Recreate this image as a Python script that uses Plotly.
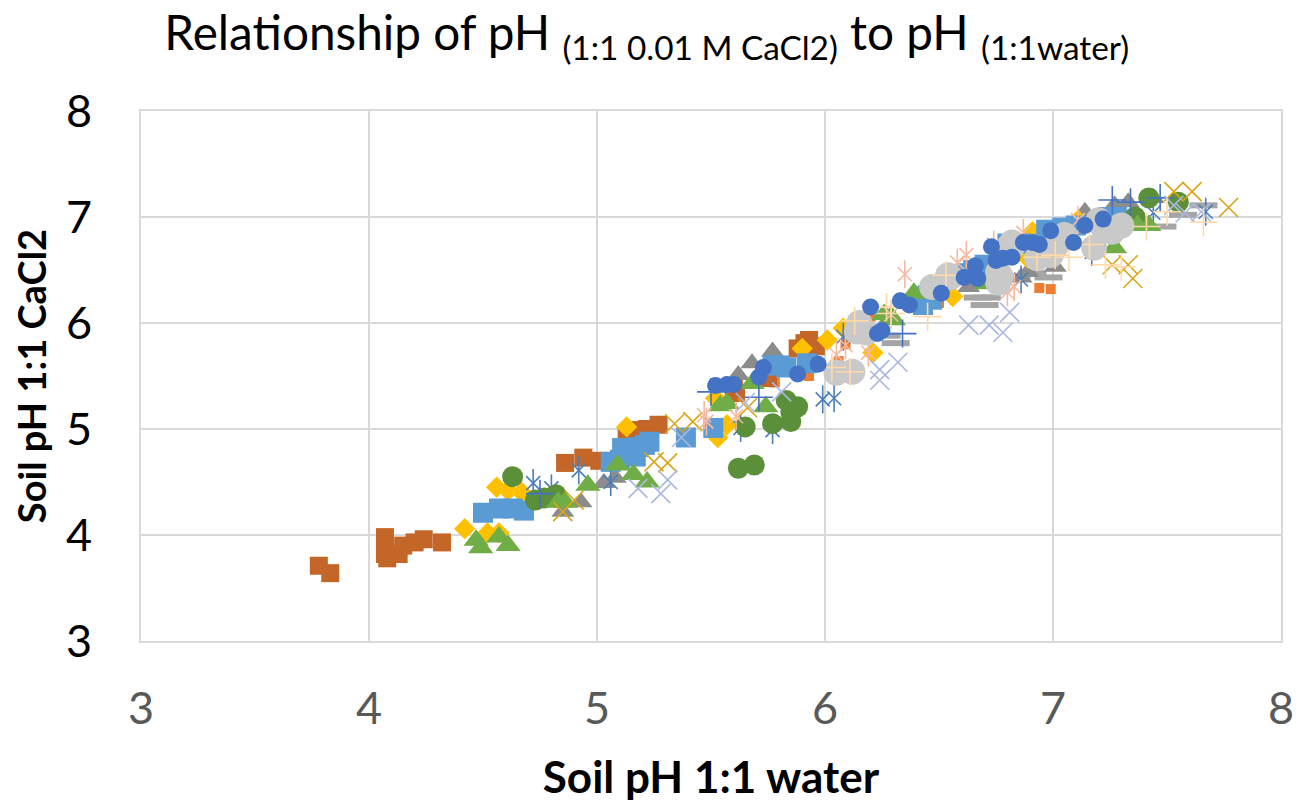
"""Soil pH in CaCl2 against soil pH in water, one trace per marker group."""
import plotly.graph_objects as go

TICKS = [3, 4, 5, 6, 7, 8]

ORANGE_DASH_X = [5.78, 5.93, 6.06, 6.09, 6.20, 6.50, 6.94, 6.99]
ORANGE_DASH_Y = [5.44, 5.50, 5.64, 5.80, 6.06, 6.19, 6.33, 6.32]
GRAY_DASH_X = [6.31, 6.27, 6.67, 6.71, 6.70, 6.84, 6.91, 6.98, 7.48, 7.57, 7.66]
GRAY_DASH_Y = [5.81, 5.88, 6.24, 6.24, 6.17, 6.44, 6.47, 6.43, 6.91, 7.02, 7.11]
GRAY_TRI_X = [4.85, 4.93, 5.03, 5.08, 5.62, 5.68, 5.77, 6.63, 6.86, 6.89, 7.01, 7.14, 7.27, 7.33, 7.44]
GRAY_TRI_Y = [4.22, 4.31, 4.49, 4.54, 5.51, 5.62, 5.73, 6.34, 6.43, 6.48, 6.53, 7.05, 7.11, 7.14, 7.18]
BROWN_X = [3.78, 3.83, 4.07, 4.07, 4.07, 4.08, 4.13, 4.15, 4.20, 4.24, 4.32, 4.86, 4.94, 5.01,
           5.13, 5.18, 5.22, 5.27, 5.60, 5.61, 5.75, 5.88, 5.91, 5.93, 5.93, 5.96]
BROWN_Y = [3.71, 3.64, 3.98, 3.88, 3.82, 3.78, 3.82, 3.90, 3.93, 3.96, 3.93, 4.68, 4.73, 4.70,
           4.93, 4.99, 5.00, 5.04, 5.38, 5.34, 5.48, 5.76, 5.81, 5.75, 5.84, 5.78]
GOLD_X = [4.42, 4.52, 4.57, 4.56, 4.61, 4.67, 5.13, 5.52, 5.53, 5.57, 5.90, 6.01, 6.08, 6.21,
          6.50, 6.56, 6.89, 6.91, 7.11]
GOLD_Y = [4.06, 4.02, 4.02, 4.45, 4.42, 4.40, 5.02, 5.29, 4.92, 5.04, 5.76, 5.84, 5.95, 5.72,
          6.35, 6.25, 6.61, 6.86, 6.97]
BLUE_SQ_X = [4.50, 4.57, 4.63, 4.68, 5.06, 5.10, 5.11, 5.13, 5.17, 5.18, 5.21, 5.23, 5.39, 5.51, 5.77,
             5.80, 5.83, 5.92, 6.43, 6.45, 6.47, 6.62, 6.65, 6.70, 6.80, 6.86, 6.97, 7.04, 7.10, 7.24, 7.28]
BLUE_SQ_Y = [4.21, 4.25, 4.25, 4.23, 4.69, 4.71, 4.82, 4.76, 4.74, 4.83, 4.85, 4.88, 4.92, 5.01, 5.60,
             5.60, 5.58, 5.62, 6.17, 6.26, 6.22, 6.47, 6.50, 6.55, 6.75, 6.75, 6.88, 6.90, 6.92, 7.00, 7.00]
STEEL_STAR_X = [4.72, 4.80, 4.92, 5.06, 5.63, 5.77, 5.99, 6.04, 6.08, 6.86, 7.17, 7.44, 7.67]
STEEL_STAR_Y = [4.49, 4.44, 4.61, 4.50, 5.01, 4.99, 5.28, 5.29, 5.87, 6.41, 6.67, 7.04, 7.05]
DARK_GREEN_X = [4.63, 4.73, 4.77, 4.82, 5.62, 5.69, 5.65, 5.77, 5.85, 5.88, 5.83, 5.85, 7.36, 7.42, 7.55]
DARK_GREEN_Y = [4.55, 4.33, 4.35, 4.38, 4.63, 4.66, 5.02, 5.05, 5.07, 5.21, 5.27, 5.16, 7.00, 7.18, 7.14]
GREEN_TRI_X = [4.47, 4.49, 4.57, 4.61, 4.83, 4.86, 4.96, 5.09, 5.16, 5.22, 5.54, 5.57, 5.68, 5.74,
               6.26, 6.29, 6.30, 6.39, 6.45, 6.71, 7.27, 7.32, 7.37, 7.42]
GREEN_TRI_Y = [3.95, 3.88, 3.98, 3.90, 4.31, 4.31, 4.47, 4.66, 4.57, 4.50, 5.22, 5.24, 5.43, 5.21,
               6.08, 6.06, 6.03, 6.28, 6.33, 6.37, 6.71, 6.94, 6.92, 6.92]
BLUE_PLUS_X = [4.75, 5.50, 5.71, 6.34, 7.26, 7.34, 7.47]
BLUE_PLUS_Y = [4.39, 5.35, 5.30, 5.90, 7.16, 7.14, 7.18]
TAN_X_X = [4.85, 4.90, 5.25, 5.31, 5.34, 5.42, 5.66, 7.26, 7.33, 7.35, 7.53, 7.61, 7.77]
TAN_X_Y = [4.22, 4.33, 4.69, 4.68, 5.05, 5.07, 5.20, 6.55, 6.55, 6.42, 7.24, 7.24, 7.09]
PERI_X_X = [5.18, 5.28, 5.31, 5.37, 5.65, 5.81, 6.24, 6.24, 6.32, 6.63, 6.72, 6.78, 6.81, 7.53, 7.58, 7.65]
PERI_X_Y = [4.44, 4.39, 4.52, 4.92, 5.25, 5.35, 5.46, 5.56, 5.63, 5.98, 5.98, 5.91, 6.10, 7.11, 7.04, 7.05]
PEACH_STAR_X = [5.47, 5.48, 5.61, 6.05, 6.09, 6.19, 6.29, 6.35, 6.58, 6.62, 6.74, 6.80, 6.83, 6.87, 7.11]
PEACH_STAR_Y = [5.13, 5.07, 5.12, 5.70, 5.79, 5.72, 6.08, 6.46, 6.57, 6.64, 6.74, 6.29, 6.34, 6.85, 6.97]
GRAY_DOT_X = [6.05, 6.12, 6.14, 6.15, 6.18, 6.15, 6.47, 6.54, 6.55, 6.76, 6.77, 6.76, 6.82, 6.82, 6.93,
              6.95, 6.99, 7.01, 7.03, 7.05, 7.18, 7.22, 7.26, 7.30, 7.20]
GRAY_DOT_Y = [5.53, 5.54, 5.92, 6.00, 5.91, 5.93, 6.34, 6.45, 6.43, 6.48, 6.44, 6.38, 6.76, 6.72, 6.61,
              6.67, 6.64, 6.72, 6.78, 6.83, 6.71, 6.90, 6.86, 6.92, 6.97]
CREAM_PLUS_X = [6.03, 6.11, 6.13, 6.27, 6.29, 6.45, 6.53, 6.93, 7.01, 7.07, 7.16, 7.23, 7.30, 7.41, 7.50, 7.66]
CREAM_PLUS_Y = [5.58, 5.54, 6.02, 6.15, 6.09, 6.06, 6.45, 6.62, 6.64, 6.62, 6.74, 6.55, 6.53, 6.91, 7.05, 6.95]
BLUE_DOT_X = [5.52, 5.57, 5.60, 5.71, 5.73, 5.88, 5.97, 6.20, 6.23, 6.25, 6.33, 6.37, 6.51, 6.61, 6.66,
              6.67, 6.73, 6.75, 6.78, 6.82, 6.87, 6.91, 6.94, 6.99, 7.09, 7.14, 7.22]
BLUE_DOT_Y = [5.41, 5.42, 5.42, 5.49, 5.58, 5.52, 5.61, 6.15, 5.90, 5.93, 6.21, 6.17, 6.28, 6.43, 6.54,
              6.42, 6.72, 6.59, 6.61, 6.62, 6.76, 6.76, 6.74, 6.87, 6.76, 6.92, 6.98]

FONT = "Lato, Carlito, Calibri, sans-serif"
GRID = "#D9D9D9"


def filled(x_vals, y_vals, symbol, size, color):
    """Solid markers"""
    return go.Scatter(x=x_vals, y=y_vals, mode="markers", hoverinfo="x+y", showlegend=False,
                      marker=dict(symbol=symbol, size=size, color=color, line_width=0))


def stroked(x_vals, y_vals, symbol, size, color, width=1.6):
    """Open markers drawn with a thin line only"""
    return go.Scatter(x=x_vals, y=y_vals, mode="markers", hoverinfo="x+y", showlegend=False,
                      marker=dict(symbol=symbol, size=size, color=color,
                                  line=dict(color=color, width=width)))


traces = [
    filled(ORANGE_DASH_X, ORANGE_DASH_Y, "square", 10, "#ED7D31"),
    stroked(GRAY_DASH_X, GRAY_DASH_Y, "line-ew", 20, "#A5A5A5", 6),
    filled(GRAY_TRI_X, GRAY_TRI_Y, "triangle-up", 20, "#8C8C8C"),
    filled(BROWN_X, BROWN_Y, "square", 18, "#C46627"),
    filled(GOLD_X, GOLD_Y, "diamond", 16.5, "#FFC000"),
    filled(BLUE_SQ_X, BLUE_SQ_Y, "square", 20, "#5B9BD5"),
    stroked(STEEL_STAR_X, STEEL_STAR_Y, "x-thin", 14, "#4A7EBB"),
    stroked(STEEL_STAR_X, STEEL_STAR_Y, "line-ns", 20, "#4A7EBB"),
    filled(DARK_GREEN_X, DARK_GREEN_Y, "circle", 21, "#5B8F3A"),
    filled(GREEN_TRI_X, GREEN_TRI_Y, "triangle-up", 22, "#70AD47"),
    stroked(BLUE_PLUS_X, BLUE_PLUS_Y, "cross-thin", 20, "#4472C4"),
    stroked(TAN_X_X, TAN_X_Y, "x-thin", 19, "#D9A514"),
    stroked(PERI_X_X, PERI_X_Y, "x-thin", 19, "#AAB8E0"),
    stroked(PEACH_STAR_X, PEACH_STAR_Y, "x-thin", 14, "#F4B9A0"),
    stroked(PEACH_STAR_X, PEACH_STAR_Y, "line-ns", 20, "#F4B9A0"),
    filled(GRAY_DOT_X, GRAY_DOT_Y, "circle", 26, "#C9C9C9"),
    stroked(CREAM_PLUS_X, CREAM_PLUS_Y, "cross-thin", 20, "#FFD9A8"),
    filled(BLUE_DOT_X, BLUE_DOT_Y, "circle", 17, "#4472C4"),
]

fig = go.Figure(traces)
# page body has an 8px margin, so figure is that much smaller than the window
fig.update_layout(
    width=1303,
    height=794,
    margin=dict(l=133, r=30, t=103, b=161),
    paper_bgcolor="white",
    plot_bgcolor="white",
    font=dict(family=FONT, color="black"),
    showlegend=False,
    title=dict(
        text="Relationship of pH <sub>(1:1 0.01 M CaCl2)</sub> to pH <sub>(1:1water)</sub>",
        font=dict(size=47.7, family=FONT, color="black"),
        x=0.12, xanchor="left", y=0.968, yanchor="middle",
    ),
)
fig.update_xaxes(
    range=[3, 8], tickvals=TICKS, showgrid=True, gridcolor=GRID, gridwidth=2, zeroline=False,
    showline=True, linecolor=GRID, linewidth=2, mirror=True, ticks="", automargin=False,
    ticklabelstandoff=27,
    tickfont=dict(size=45, color="#595959", family=FONT),
    title=dict(text="<b>Soil pH 1:1 water</b>", font=dict(size=44, family=FONT, color="black"), standoff=33),
)
fig.update_yaxes(
    range=[3, 8], tickvals=TICKS, showgrid=True, gridcolor=GRID, gridwidth=2, zeroline=False,
    showline=True, linecolor=GRID, linewidth=2, mirror=True, ticks="", automargin=False,
    ticklabelstandoff=38,
    tickfont=dict(size=45, color="black", family=FONT),
    title=dict(text="<b>Soil pH 1:1 CaCl2</b>", font=dict(size=38, family=FONT, color="black"), standoff=18),
)

fig.write_html("out.html")
